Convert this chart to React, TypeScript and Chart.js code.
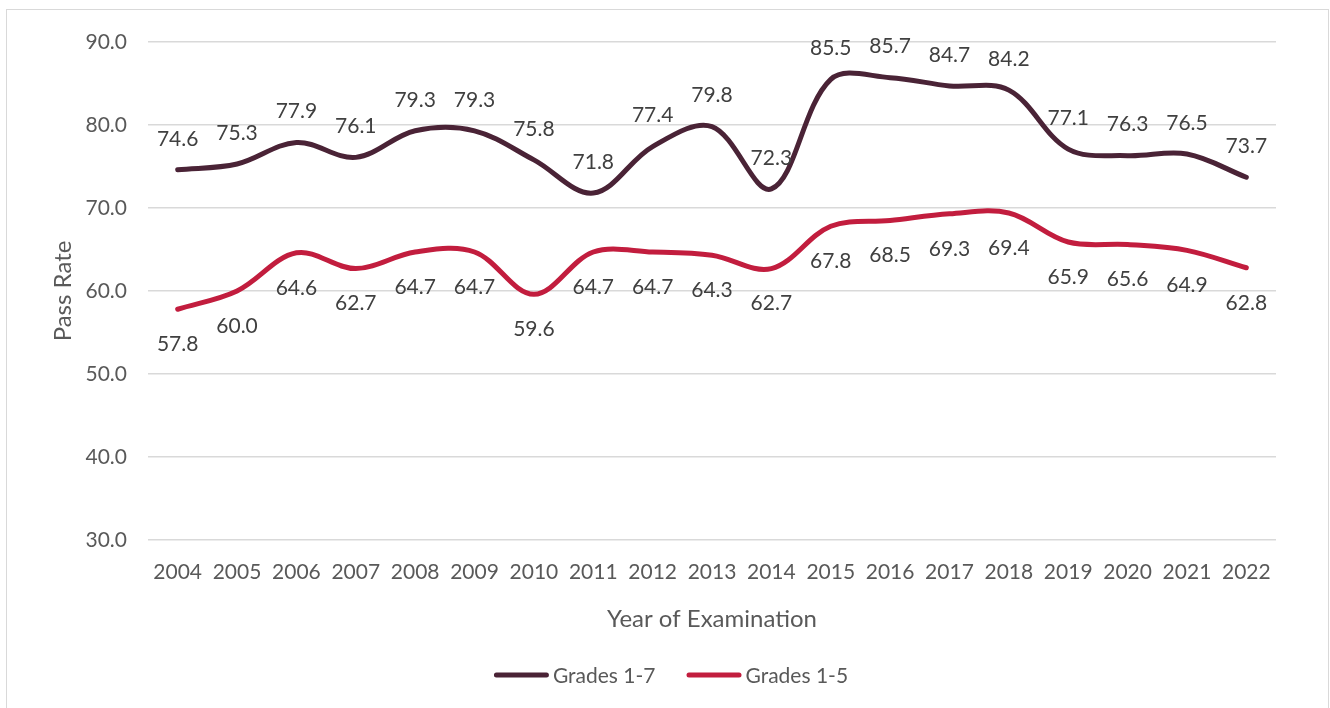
import React, { useEffect, useRef } from "react";
import { Chart, registerables } from "chart.js";

Chart.register(...registerables);

const years = ["2004", "2005", "2006", "2007", "2008", "2009", "2010", "2011", "2012", "2013", "2014", "2015", "2016", "2017", "2018", "2019", "2020", "2021", "2022"];
const grades17 = [74.6, 75.3, 77.9, 76.1, 79.3, 79.3, 75.8, 71.8, 77.4, 79.8, 72.3, 85.5, 85.7, 84.7, 84.2, 77.1, 76.3, 76.5, 73.7];
const grades15 = [57.8, 60.0, 64.6, 62.7, 64.7, 64.7, 59.6, 64.7, 64.7, 64.3, 62.7, 67.8, 68.5, 69.3, 69.4, 65.9, 65.6, 64.9, 62.8];
const seriesNames = ["Grades 1-7", "Grades 1-5"];
const seriesColors = ["#4A2336", "#C21D3E"];
const yTicksMin = 30;
const yTicksMax = 90;
const yStep = 10;

const FONT = "Lato, 'Open Sans', sans-serif";
const TEXT = "#595959";

const dataLabelPlugin = {
  id: "dataLabels",
  afterDatasetsDraw(chart: any) {
    const ctx = chart.ctx;
    ctx.save();
    ctx.font = `21px ${FONT}`;
    ctx.fillStyle = "#404040";
    ctx.textAlign = "center";
    ctx.textBaseline = "middle";
    chart.data.datasets.forEach((ds: any, i: number) => {
      const meta = chart.getDatasetMeta(i);
      const off = i === 0 ? -31 : 35;
      meta.data.forEach((pt: any, j: number) => {
        ctx.fillText(Number(ds.data[j]).toFixed(1), pt.x, pt.y + off);
      });
    });
    ctx.restore();
  },
};

const legendPlugin = {
  id: "customLegend",
  afterDraw(chart: any) {
    const ctx = chart.ctx;
    ctx.save();
    ctx.font = `21px ${FONT}`;
    ctx.textBaseline = "middle";
    ctx.textAlign = "left";
    const lineW = 55;
    const gap = 4;
    const spacing = 31;
    const ds = chart.data.datasets;
    const widths = ds.map((d: any) => ctx.measureText(d.label).width);
    const total = widths.reduce((a: number, w: number) => a + lineW + gap + w, 0) + spacing * (ds.length - 1);
    let x = chart.width / 2 + 6 - total / 2;
    const y = 675;
    ds.forEach((d: any, i: number) => {
      ctx.strokeStyle = d.borderColor;
      ctx.lineWidth = 5;
      ctx.lineCap = "round";
      ctx.beginPath();
      ctx.moveTo(x + 2.5, y);
      ctx.lineTo(x + lineW - 2.5, y);
      ctx.stroke();
      ctx.fillStyle = TEXT;
      ctx.fillText(d.label, x + lineW + gap, y + 1);
      x += lineW + gap + widths[i] + spacing;
    });
    ctx.restore();
  },
};

export default function App() {
  const ref = useRef<HTMLCanvasElement | null>(null);
  useEffect(() => {
    if (!ref.current) return;
    const chart = new Chart(ref.current, {
      type: "line",
      data: {
        labels: years,
        datasets: [
          {
            label: seriesNames[0],
            data: grades17,
            borderColor: seriesColors[0],
            backgroundColor: seriesColors[0],
            borderWidth: 5,
            borderCapStyle: "round",
            pointRadius: 0,
            tension: 0.35,
          },
          {
            label: seriesNames[1],
            data: grades15,
            borderColor: seriesColors[1],
            backgroundColor: seriesColors[1],
            borderWidth: 5,
            borderCapStyle: "round",
            pointRadius: 0,
            tension: 0.35,
          },
        ],
      },
      options: {
        animation: false,
        responsive: false,
        maintainAspectRatio: false,
        layout: { padding: { top: 42, right: 54, left: 0, bottom: 70 } },
        plugins: {
          legend: { display: false },
          tooltip: { enabled: false },
        },
        scales: {
          x: {
            offset: true,
            grid: { display: false, drawTicks: false },
            border: { display: false },
            ticks: { color: TEXT, font: { family: FONT, size: 21 }, padding: 20, maxRotation: 0, autoSkip: false },
            title: { display: true, text: "Year of Examination", color: TEXT, font: { family: FONT, size: 24 }, padding: { top: 2, bottom: 4 } },
            afterFit: (s: any) => { s.height = 98; },
          },
          y: {
            min: yTicksMin,
            max: yTicksMax,
            grid: { color: "#D9D9D9", lineWidth: 1.5, drawTicks: false },
            border: { display: false },
            ticks: { stepSize: yStep, color: TEXT, font: { family: FONT, size: 21 }, padding: 21, callback: (v: any) => Number(v).toFixed(1) },
            title: { display: true, text: "Pass Rate", color: TEXT, font: { family: FONT, size: 24 }, padding: { top: 49, bottom: 0 } },
            afterFit: (s: any) => { s.width = 148; },
          },
        },
      },
      plugins: [dataLabelPlugin, legendPlugin],
    });
    return () => chart.destroy();
  }, []);

  return (
    <div style={{ position: "absolute", left: 0, top: 0, width: 1330, height: 708, overflow: "hidden", background: "#fff" }}>
      <div style={{ position: "absolute", left: 6, top: 9, width: 1321, height: 720, border: "1px solid #D9D9D9" }} />
      <canvas ref={ref} width={1330} height={708} style={{ position: "absolute", left: 0, top: 0 }} />
    </div>
  );
}
